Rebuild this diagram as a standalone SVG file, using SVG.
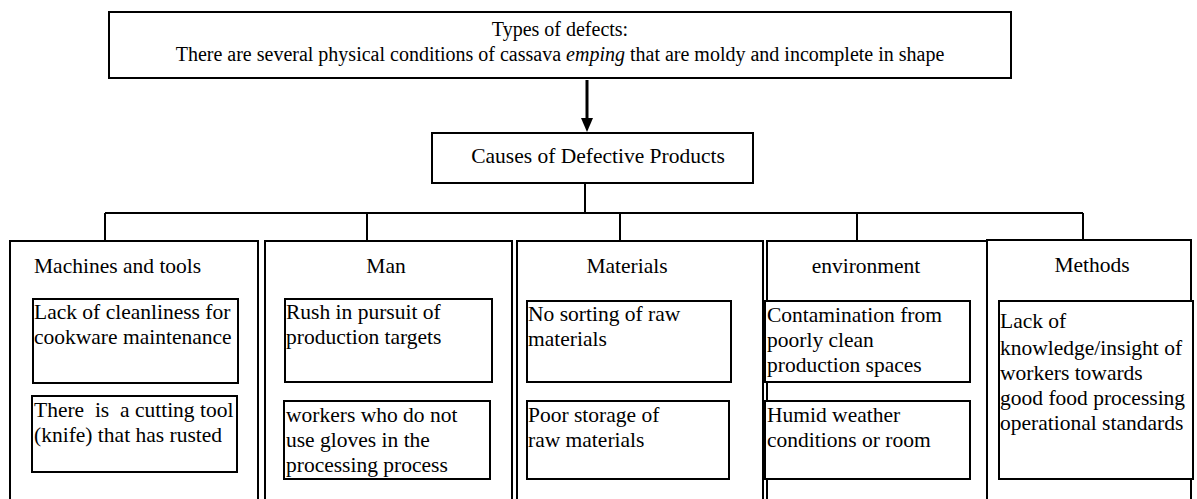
<svg xmlns="http://www.w3.org/2000/svg" width="1197" height="499" viewBox="0 0 1197 499">
<style>
.b{fill:#fff;stroke:#000;stroke-width:2}
.c{fill:none;stroke:#000;stroke-width:2}
text{font-family:"Liberation Serif","Times New Roman",serif;font-size:21.5px;fill:#000}
.t{font-size:20px}
.m{text-anchor:middle}
</style>
<rect width="1197" height="499" fill="#fff"/>
<g id="top">
<rect class="b" x="109" y="12" width="902" height="66"/>
<text class="m t" x="560" y="36">Types of defects:</text>
<text class="m t" x="560" y="61">There are several physical conditions of cassava <tspan font-style="italic">emping</tspan> that are moldy and incomplete in shape</text>
</g>
<g id="causes">
<rect class="b" x="432" y="133" width="321" height="50"/>
<text class="m" x="598" y="163">Causes of Defective Products</text>
</g>
<g id="connectors">
<line x1="587" y1="80" x2="587" y2="119" stroke="#000" stroke-width="3"/>
<polygon points="581,118 593,118 587,132" fill="#000"/>
<path class="c" d="M585 183V213M105 213H1083M105 213V241M367 213V241M620 213V241M857 213V241M1083 213V241"/>
</g>
<g id="machines">
<rect class="b" x="10" y="241" width="248" height="262"/>
<text x="34" y="273">Machines and tools</text>
<rect class="b" x="33" y="299" width="205" height="84"/>
<text x="34" y="319">Lack of cleanliness for</text>
<text x="34" y="344">cookware maintenance</text>
<rect class="b" x="32" y="396" width="205" height="76"/>
<text x="34" y="417">There&#160; is&#160; a cutting tool</text>
<text x="34" y="442">(knife) that has rusted</text>
</g>
<g id="man">
<rect class="b" x="265" y="241" width="247" height="262"/>
<text class="m" x="386" y="273">Man</text>
<rect class="b" x="285" y="299" width="207" height="83"/>
<text x="286" y="319">Rush in pursuit of</text>
<text x="286" y="344">production targets</text>
<rect class="b" x="284" y="401" width="206" height="78"/>
<text x="286" y="422">workers who do not</text>
<text x="286" y="447">use gloves in the</text>
<text x="286" y="472">processing process</text>
</g>
<g id="materials">
<rect class="b" x="517" y="241" width="246" height="262"/>
<text class="m" x="627" y="273">Materials</text>
<rect class="b" x="527" y="301" width="204" height="81"/>
<text x="528" y="321">No sorting of raw</text>
<text x="528" y="346">materials</text>
<rect class="b" x="527" y="401" width="202" height="78"/>
<text x="528" y="422">Poor storage of</text>
<text x="528" y="447">raw materials</text>
</g>
<g id="environment">
<rect class="b" x="767" y="241" width="220" height="262"/>
<text class="m" x="866" y="273">environment</text>
<rect class="b" x="765" y="301" width="205" height="81"/>
<text x="767" y="322">Contamination from</text>
<text x="767" y="347">poorly clean</text>
<text x="767" y="372">production spaces</text>
<rect class="b" x="765" y="401" width="205" height="78"/>
<text x="767" y="422">Humid weather</text>
<text x="767" y="447">conditions or room</text>
</g>
<g id="methods">
<rect class="b" x="987" y="240" width="204" height="262"/>
<text class="m" x="1092" y="272">Methods</text>
<rect class="b" x="999" y="301" width="194" height="178"/>
<text x="1000" y="328">Lack of</text>
<text x="1000" y="355">knowledge/insight of</text>
<text x="1000" y="380">workers towards</text>
<text x="1000" y="405">good food processing</text>
<text x="1000" y="430">operational standards</text>
</g>
</svg>
